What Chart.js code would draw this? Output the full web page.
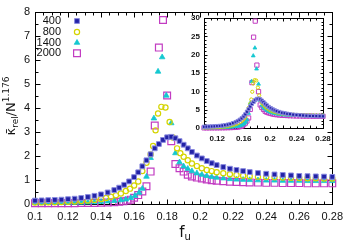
<!DOCTYPE html>
<html><head><meta charset="utf-8">
<script src="https://cdn.jsdelivr.net/npm/chart.js"></script>
<style>
html,body{margin:0;padding:0;background:#fff;}
#wrap{position:relative;width:350px;height:250px;overflow:hidden;}
#main{position:absolute;left:0;top:0;}
#inset{position:absolute;left:170px;top:6px;}
</style></head><body>
<div id="wrap"><canvas id="main" width="350" height="250"></canvas><canvas id="inset" width="170" height="164"></canvas></div>
<script>
// ---------- data ----------
const SERIES = ['400', '800', '1400', '2000'];
const X_MAIN_TICKS = [0.1, 0.12, 0.14, 0.16, 0.18, 0.2, 0.22, 0.24, 0.26, 0.28];
const Y_MAIN_TICKS = [0, 1, 2, 3, 4, 5, 6, 7, 8];
const X_INSET_TICKS = [0.12, 0.16, 0.2, 0.24, 0.28];
const Y_INSET_TICKS = [0, 5, 10, 15, 20, 25, 30];

const x400 = [0.100,0.104,0.108,0.112,0.116,0.120,0.124,0.128,0.132,0.136,0.140,0.144,0.148,0.151,0.154,0.157,0.160,0.1625,0.165,0.1675,0.170,0.1725,0.175,0.1775,0.180,0.1825,0.185,0.1875,0.190,0.1925,0.195,0.198,0.201,0.204,0.207,0.210,0.214,0.218,0.222,0.226,0.230,0.235,0.240,0.245,0.250,0.255,0.260,0.265,0.270,0.275,0.280];
const y400 = [0.12,0.13,0.14,0.15,0.16,0.18,0.20,0.23,0.27,0.32,0.38,0.46,0.56,0.66,0.78,0.92,1.10,1.30,1.55,1.80,2.05,2.30,2.48,2.65,2.76,2.78,2.72,2.60,2.45,2.30,2.15,2.00,1.88,1.77,1.68,1.60,1.52,1.45,1.40,1.35,1.31,1.27,1.24,1.21,1.19,1.17,1.15,1.14,1.13,1.12,1.11];
const y400inset = [0.34,0.37,0.40,0.43,0.46,0.52,0.57,0.66,0.77,0.92,1.09,1.32,1.61,1.89,2.24,2.64,3.16,3.73,4.45,5.17,5.88,6.60,7.12,7.61,7.92,7.98,7.81,7.46,7.03,6.60,6.17,5.74,5.40,5.08,4.82,4.59,4.36,4.16,4.02,3.87,3.76,3.64,3.56,3.47,3.42,3.36,3.30,3.27,3.24,3.21,3.19];

const x800 = [0.100,0.104,0.108,0.112,0.116,0.120,0.124,0.128,0.132,0.136,0.140,0.143,0.146,0.149,0.152,0.155,0.1575,0.160,0.1625,0.165,0.1675,0.170,0.1715,0.173,0.1745,0.1765,0.179,0.1815,0.1835,0.186,0.188,0.190,0.1925,0.195,0.198,0.201,0.204,0.207,0.210,0.214,0.218,0.222,0.226,0.230,0.235,0.240,0.245,0.250,0.255,0.260,0.265,0.270,0.275,0.280];
const y800 = [0.04,0.045,0.05,0.055,0.06,0.07,0.08,0.10,0.12,0.15,0.19,0.23,0.28,0.34,0.42,0.52,0.62,0.75,0.92,1.35,1.70,2.05,2.40,3.05,3.75,4.03,4.00,3.40,2.75,2.30,2.10,1.95,1.80,1.67,1.56,1.47,1.40,1.35,1.30,1.26,1.22,1.19,1.16,1.14,1.12,1.10,1.09,1.08,1.07,1.06,1.05,1.05,1.04,1.04];
const y800inset = [0.13,0.15,0.16,0.18,0.19,0.23,0.26,0.32,0.39,0.49,0.62,0.75,0.91,1.10,1.36,1.68,2.01,2.43,2.98,4.37,5.51,6.64,7.78,9.88,12.15,13.06,12.96,11.02,8.91,7.45,6.80,6.32,5.83,5.41,5.05,4.76,4.54,4.37,4.21,4.08,3.95,3.86,3.76,3.69,3.63,3.56,3.53,3.50,3.47,3.43,3.40,3.40,3.37,3.37];

const x1400 = [0.100,0.104,0.108,0.112,0.116,0.120,0.124,0.128,0.132,0.136,0.140,0.144,0.148,0.152,0.155,0.158,0.1605,0.163,0.165,0.1675,0.170,0.172,0.1745,0.177,0.1795,0.1825,0.185,0.1875,0.190,0.1925,0.195,0.198,0.201,0.204,0.207,0.210,0.214,0.218,0.222,0.226,0.230,0.235,0.240,0.245,0.250,0.255,0.260,0.265,0.270,0.275,0.280];
const y1400 = [0.02,0.022,0.024,0.026,0.028,0.03,0.035,0.04,0.045,0.055,0.07,0.09,0.11,0.14,0.17,0.23,0.32,0.45,0.62,1.12,1.90,3.55,5.50,6.10,4.50,3.35,2.10,1.72,1.55,1.45,1.35,1.26,1.20,1.15,1.11,1.08,1.05,1.02,1.00,0.99,0.98,0.97,0.96,0.96,0.95,0.95,0.95,0.94,0.94,0.94,0.94];
const y1400inset = [0.07,0.08,0.09,0.09,0.10,0.11,0.13,0.14,0.16,0.20,0.25,0.32,0.39,0.50,0.61,0.82,1.15,1.61,2.22,4.01,6.80,12.71,19.69,21.84,16.11,11.99,7.52,6.16,5.55,5.19,4.83,4.51,4.30,4.12,3.97,3.87,3.76,3.65,3.58,3.54,3.51,3.47,3.44,3.44,3.40,3.40,3.40,3.37,3.37,3.37,3.37];

const x2000 = [0.100,0.104,0.108,0.112,0.116,0.120,0.124,0.128,0.132,0.136,0.140,0.144,0.148,0.151,0.1535,0.156,0.158,0.160,0.1625,0.165,0.1675,0.170,0.1725,0.175,0.1775,0.180,0.1825,0.185,0.1875,0.190,0.1925,0.195,0.198,0.201,0.204,0.207,0.210,0.214,0.218,0.222,0.226,0.230,0.235,0.240,0.245,0.250,0.255,0.260,0.265,0.270,0.275,0.280];
const y2000 = [0.01,0.01,0.01,0.012,0.012,0.014,0.015,0.018,0.02,0.025,0.03,0.04,0.05,0.07,0.09,0.12,0.16,0.24,0.35,0.50,0.72,1.33,3.25,6.50,7.65,4.50,2.60,1.65,1.47,1.33,1.20,1.13,1.08,1.04,1.00,0.97,0.95,0.93,0.91,0.90,0.89,0.88,0.87,0.86,0.86,0.85,0.85,0.85,0.84,0.84,0.84,0.84];
const y2000inset = [0.04,0.04,0.04,0.05,0.05,0.05,0.06,0.07,0.08,0.10,0.11,0.15,0.19,0.27,0.34,0.46,0.61,0.91,1.33,1.91,2.74,5.07,12.38,24.77,29.15,17.15,9.91,6.29,5.60,5.07,4.57,4.31,4.11,3.96,3.81,3.70,3.62,3.54,3.47,3.43,3.39,3.35,3.31,3.28,3.28,3.24,3.24,3.24,3.20,3.20,3.20,3.20];

// ---------- styles ----------
const STY = [
  {style:'rect', fill:'#2222a6', stroke:'#8a8ae0', r:3.4, ri:2.3, lw:1},
  {style:'circle', fill:'rgba(0,0,0,0)', stroke:'#d4d400', r:2.6, ri:1.6, lw:1.2},
  {style:'triangle', fill:'#14c8d0', stroke:'#14c8d0', r:3.2, ri:2.2, lw:0.8},
  {style:'rect', fill:'rgba(0,0,0,0)', stroke:'#c23cc2', r:4.8, ri:3.0, lw:1.2}
];
const XS = [x400, x800, x1400, x2000];
const YM = [y400, y800, y1400, y2000];
const YI = [y400inset, y800inset, y1400inset, y2000inset];

Chart.defaults.font.family = "'Liberation Sans Narrow','Liberation Sans',sans-serif";
Chart.defaults.color = '#111';

function pts(xs, ys){ return xs.map((x,i)=>({x:x, y:ys[i]})); }
function mkDatasets(ys, inset){
  return SERIES.map((name,i)=>({
    label: name, data: pts(XS[i], ys[i]), showLine:false, clip:false,
    pointStyle: STY[i].style, pointRadius: inset ? STY[i].ri : STY[i].r,
    pointBackgroundColor: STY[i].fill, pointBorderColor: STY[i].stroke,
    pointBorderWidth: inset ? Math.min(STY[i].lw, 1) : STY[i].lw
  }));
}

function drawMark(ctx, s, x, y, r, lw){
  ctx.save();
  ctx.fillStyle = s.fill; ctx.strokeStyle = s.stroke; ctx.lineWidth = lw;
  ctx.beginPath();
  if (s.style === 'rect'){ const h = r*Math.SQRT1_2; ctx.rect(x-h, y-h, 2*h, 2*h); }
  else if (s.style === 'circle'){ ctx.arc(x, y, r, 0, Math.PI*2); }
  else { const h = r*1.5/Math.sqrt(3); ctx.moveTo(x, y - r); ctx.lineTo(x - r*0.866, y + r*0.5); ctx.lineTo(x + r*0.866, y + r*0.5); ctx.closePath(); }
  ctx.fill(); ctx.stroke(); ctx.restore();
}

function rich(ctx, segs, cx, base, family){
  let w = 0;
  segs.forEach(s=>{ ctx.font = s[1]+'px '+family; w += ctx.measureText(s[0]).width; });
  let x = cx - w/2;
  ctx.textAlign = 'left'; ctx.textBaseline = 'alphabetic';
  segs.forEach(s=>{ ctx.font = s[1]+'px '+family; ctx.fillText(s[0], x, base + s[2]); x += ctx.measureText(s[0]).width; });
}

function frameTicksPlugin(xMinor, xMajorStep, yMinor, yMajorStep, majLen, minLen){
  return {
    id:'frameTicks',
    beforeDatasetsDraw(chart){
      const {ctx, chartArea:a, scales:{x, y}} = chart;
      ctx.save();
      ctx.strokeStyle = '#000'; ctx.lineWidth = 1;
      const L = Math.round(a.left)+0.5, R = Math.round(a.right)+0.5, T = Math.round(a.top)+0.5, B = Math.round(a.bottom)+0.5;
      ctx.strokeRect(L, T, R-L, B-T);
      ctx.beginPath();
      const nx = Math.round((x.max - x.min)/xMinor);
      const per = Math.round(xMajorStep/xMinor);
      for (let i=0;i<=nx;i++){
        const px = Math.round(x.getPixelForValue(x.min + i*xMinor))+0.5;
        const len = (i % per === 0) ? majLen : minLen;
        ctx.moveTo(px, B); ctx.lineTo(px, B-len);
        ctx.moveTo(px, T); ctx.lineTo(px, T+len);
      }
      const ny = Math.round((y.max - y.min)/yMinor);
      const pery = Math.round(yMajorStep/yMinor);
      for (let i=0;i<=ny;i++){
        const py = Math.round(y.getPixelForValue(y.min + i*yMinor))+0.5;
        const len = (i % pery === 0) ? majLen : minLen;
        ctx.moveTo(L, py); ctx.lineTo(L+len, py);
        ctx.moveTo(R, py); ctx.lineTo(R-len, py);
      }
      ctx.stroke();
      ctx.restore();
    }
  };
}

const fmt = v => String(+(+v).toFixed(2));

// ---------- main chart ----------
const mainDecor = {
  id:'mainDecor',
  afterDraw(chart){
    const ctx = chart.ctx;
    ctx.save();
    ctx.fillStyle = '#111';
    // y title
    ctx.translate(15, 106); ctx.rotate(-Math.PI/2);
    rich(ctx, [['\u03BA\u0304',13,0],['rel',9,3],['/N',13,0],['1.176',9,-6]], 0, 0, "'DejaVu Sans',sans-serif");
    ctx.restore();
    ctx.save(); ctx.fillStyle = '#111';
    rich(ctx, [['f',15,0],['u',10,3]], 185, 237, "'DejaVu Sans',sans-serif");
    // legend
    ctx.font = "11px 'Liberation Sans Narrow','Liberation Sans',sans-serif";
    ctx.textAlign = 'right'; ctx.textBaseline = 'middle';
    const rows = [21, 32, 42.7, 53.3];
    SERIES.forEach((n,i)=>{
      ctx.fillStyle = '#111'; ctx.fillText(n, 61, rows[i]);
      drawMark(ctx, STY[i], 77, rows[i], STY[i].r, STY[i].lw);
    });
    ctx.restore();
  }
};

new Chart(document.getElementById('main'), {
  type:'scatter',
  data:{ datasets: mkDatasets(YM, false) },
  options:{
    responsive:false, animation:false, events:[],
    layout:{ padding:{ left:0, top:11.5, right:16, bottom:0 } },
    plugins:{ legend:{display:false}, tooltip:{enabled:false} },
    scales:{
      x:{ type:'linear', min:0.1, max:0.28,
          afterBuildTicks: s => { s.ticks = X_MAIN_TICKS.map(v=>({value:v})); },
          afterFit: s => { s.height = 46.5; },
          grid:{ display:false, drawTicks:false }, border:{ display:false },
          ticks:{ padding:7, font:{ size:11 }, maxRotation:0, autoSkip:false, callback: fmt } },
      y:{ type:'linear', min:0, max:8,
          afterBuildTicks: s => { s.ticks = Y_MAIN_TICKS.map(v=>({value:v})); },
          afterFit: s => { s.width = 35; },
          grid:{ display:false, drawTicks:false }, border:{ display:false },
          ticks:{ padding:5, font:{ size:11 }, callback: fmt } }
    }
  },
  plugins:[frameTicksPlugin(0.005, 0.02, 0.5, 1, 5, 3), mainDecor]
});

// ---------- inset chart ----------
const insetDecor = {
  id:'insetDecor',
  afterDraw(chart){
    const ctx = chart.ctx;
    ctx.save(); ctx.fillStyle = '#111';
    ctx.translate(17, 76); ctx.rotate(-Math.PI/2);
    rich(ctx, [['\u03BA\u0304',9,0],['rel',6.5,2],['/N',9,0]], 0, 0, "'DejaVu Sans',sans-serif");
    ctx.restore();
    ctx.save(); ctx.fillStyle = '#111';
    rich(ctx, [['f',11,0],['u',7.5,2]], 93, 154, "'DejaVu Sans',sans-serif");
    ctx.font = "bold 8px 'Liberation Sans Narrow','Liberation Sans',sans-serif";
    ctx.textAlign = 'right'; ctx.textBaseline = 'middle';
    const rows = [29, 38.5, 47.5, 56];
    SERIES.forEach((n,i)=>{
      ctx.fillStyle = '#222'; ctx.fillText(n, 120, rows[i]);
      drawMark(ctx, STY[i], 128, rows[i], STY[i].ri, Math.min(STY[i].lw,1));
      drawMark(ctx, STY[i], 135, rows[i], STY[i].ri, Math.min(STY[i].lw,1));
    });
    ctx.restore();
  }
};

new Chart(document.getElementById('inset'), {
  type:'scatter',
  data:{ datasets: mkDatasets(YI, true) },
  options:{
    responsive:false, animation:false, events:[],
    layout:{ padding:{ left:0, top:12, right:17, bottom:0 } },
    plugins:{ legend:{display:false}, tooltip:{enabled:false} },
    scales:{
      x:{ type:'linear', min:0.1, max:0.28,
          afterBuildTicks: s => { s.ticks = X_INSET_TICKS.map(v=>({value:v})); },
          afterFit: s => { s.height = 42; },
          grid:{ display:false, drawTicks:false }, border:{ display:false },
          ticks:{ padding:6, font:{ size:8, weight:'bold' }, maxRotation:0, autoSkip:false, callback: fmt } },
      y:{ type:'linear', min:0, max:30,
          afterBuildTicks: s => { s.ticks = Y_INSET_TICKS.map(v=>({value:v})); },
          afterFit: s => { s.width = 34; },
          grid:{ display:false, drawTicks:false }, border:{ display:false },
          ticks:{ padding:4, font:{ size:8, weight:'bold' }, callback: fmt } }
    }
  },
  plugins:[frameTicksPlugin(0.01, 0.04, 1, 5, 3, 2)]
});
</script>
</body></html>
